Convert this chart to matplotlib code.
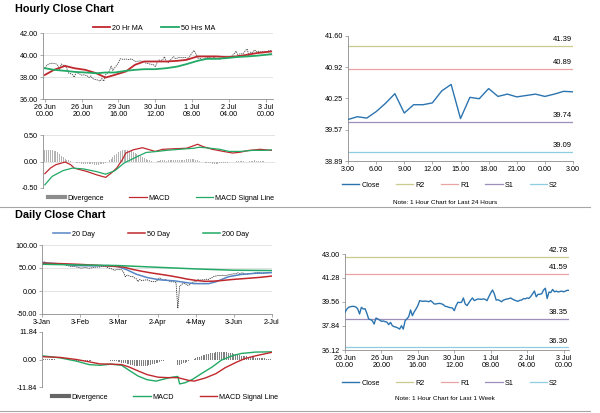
import numpy as np
import matplotlib
matplotlib.use('Agg')
import matplotlib.pyplot as plt
from matplotlib.lines import Line2D

plt.rcParams['font.family'] = ['Liberation Sans Narrow', 'Liberation Sans', 'DejaVu Sans']

# ---- hourly data, 26 Jun 00.00 .. 3 Jul 03.00 ----
week_close = [
    38.82, 39.05, 39.18, 39.22, 39.25, 39.24, 39.20, 39.06, 38.70, 39.18,
    39.06, 39.08, 38.75, 38.34, 38.30, 38.22, 37.98, 38.41, 38.35, 38.27,
    38.17, 38.20, 38.15, 38.12, 37.94, 38.10, 37.86, 37.79, 37.76, 37.70,
    37.62, 37.86, 37.62, 38.22, 38.35, 38.51, 38.99, 38.58, 38.85, 39.06,
    39.30, 39.66, 39.62, 39.61, 39.63, 39.61, 39.58, 39.66, 39.55, 39.42,
    39.42, 39.45, 39.46, 39.43, 39.37, 39.25, 39.23, 39.18, 39.15, 39.13,
    38.94, 39.30, 39.54, 39.52, 39.54, 39.85, 39.42, 39.30, 39.50, 39.70,
    39.85, 39.66, 39.72, 39.78, 39.76, 39.75, 39.78, 39.75, 39.66, 39.95,
    40.20, 40.42, 40.14, 39.70, 39.72, 39.66, 39.58, 39.70, 39.74, 39.78,
    39.80, 39.85, 39.76, 39.70, 39.65, 39.61, 39.68, 39.70, 39.80,
    39.79, 39.85, 39.82, 39.96, 40.14, 40.35, 39.93, 40.11, 40.11, 40.15,
    40.41, 40.55, 39.81, 40.27, 40.24, 40.46, 40.29, 40.34, 40.28, 40.31,
    40.34, 40.29, 40.34, 40.40, 40.39]
day_close = week_close[-25:]

week_ticks = [0, 20, 40, 60, 80, 100, 120]
week_labels = ['26 Jun\n00.00', '26 Jun\n20.00', '29 Jun\n16.00', '30 Jun\n12.00',
               '1 Jul\n08.00', '2 Jul\n04.00', '3 Jul\n00.00']
day_ticks = [0, 3, 6, 9, 12, 15, 18, 21, 24]
day_labels = ['3.00', '6.00', '9.00', '12.00', '15.00', '18.00', '21.00', '0.00', '3.00']

ma_x = [0, 5, 11, 16, 22, 28, 33, 38, 44, 49, 54, 60, 66, 72, 77, 83, 88, 93, 99, 104, 110, 115, 120, 123]
ma20 = [38.19, 38.65, 39.01, 38.80, 38.65, 38.34, 37.95, 38.19, 38.50, 39.11, 39.41, 39.41,
        39.41, 39.47, 39.56, 39.87, 39.87, 39.87, 39.81, 39.87, 40.02, 40.17, 40.26, 40.32]
ma50 = [38.80, 38.65, 38.56, 38.47, 38.41, 38.34, 38.41, 38.41, 38.56, 38.65, 38.71, 38.71,
        38.80, 38.95, 39.17, 39.47, 39.65, 39.65, 39.72, 39.81, 39.87, 39.93, 40.02, 40.08]

hmacd_x = [0, 3, 6, 11, 14, 16, 23, 28, 33, 36, 39, 42, 44, 48, 53, 56, 60, 64, 70, 77, 83, 86,
           91, 97, 102, 106, 111, 117, 120, 123]
hmacd = [-0.23, -0.125, -0.06, -0.01, -0.06, -0.125, -0.19, -0.25, -0.30, -0.22, -0.125, 0.03,
         0.16, 0.22, 0.26, 0.23, 0.19, 0.23, 0.24, 0.25, 0.325, 0.28, 0.23, 0.19, 0.16, 0.175,
         0.21, 0.23, 0.22, 0.21]
hsig_x = [0, 4, 10, 15, 21, 28, 33, 38, 43, 50, 55, 61, 66, 73, 81, 84, 90, 95, 100, 106, 113, 120, 123]
hsig = [-0.44, -0.28, -0.17, -0.125, -0.14, -0.19, -0.24, -0.175, -0.03, 0.09, 0.17, 0.19,
        0.21, 0.23, 0.25, 0.27, 0.25, 0.23, 0.19, 0.19, 0.21, 0.21, 0.22]
hdiv = [0.21, 0.22, 0.22, 0.22, 0.21, 0.20, 0.19, 0.17, 0.14,
        0.11, 0.08, 0.05, 0.03, 0.02, 0.01, 0.00, -0.01,
        -0.02, -0.03, -0.03, -0.04, -0.04, -0.05, -0.05, -0.05, -0.05, -0.05, -0.06, -0.06, -0.06, -0.05, -0.05, -0.04, -0.03,
        -0.01, 0.02, 0.05, 0.09, 0.12, 0.15, 0.18, 0.20, 0.21, 0.21, 0.21, 0.21,
        0.20, 0.19, 0.18, 0.16, 0.14, 0.12, 0.10, 0.08, 0.06, 0.04, 0.03, 0.02, 0.01, 0.00, 0.00,
        0.01, 0.01, 0.02, 0.02, 0.02, 0.01, 0.02, 0.02, 0.03, 0.02, 0.02, 0.02, 0.02, 0.03, 0.03,
        0.03, 0.04, 0.05, 0.05, 0.05, 0.04, 0.03, 0.02, 0.01, 0.00,
        -0.01, -0.02, -0.02, -0.03, -0.03, -0.04, -0.04, -0.04, -0.04, -0.03, -0.03, -0.03, -0.02,
        -0.02, -0.01, -0.01, 0.00, 0.00, 0.01, 0.01, 0.01, 0.01, 0.01, 0.00, 0.00,
        0.01, 0.01, 0.01, 0.02, 0.01, 0.01, 0.01, 0.01, 0.01, 0.00, 0.00, 0.00, 0.00]

level_names = ['R2', 'R1', 'S1', 'S2']
level_colors = ['#c9cc8e', '#e9a3a3', '#9d8fb9', '#8fcde0']
day_levels = [41.39, 40.89, 39.74, 39.09]
week_levels = [42.78, 41.59, 38.35, 36.30]

# ---- daily data, 3 Jan .. 2 Jul ----
daily_close = [
    63.05, 63.27, 62.70, 59.61, 59.56, 59.04, 58.08, 58.23, 57.81, 58.52, 58.54, 58.54, 58.34,
    56.74, 55.59, 54.19, 53.14, 53.48, 53.33, 52.14, 51.56,
    50.11, 49.61, 50.75, 50.95, 50.32, 49.57, 49.94, 51.17, 51.42, 52.05, 52.05, 52.05, 53.29,
    53.78, 53.38, 51.43, 49.90, 48.73, 47.09, 44.76,
    46.75, 47.18, 46.78, 45.90, 41.28, 31.13, 34.36, 32.98, 31.50, 31.73, 28.70, 26.95, 20.37,
    25.22, 22.43, 23.36, 24.01, 24.49, 22.60, 21.51, 20.09, 20.48,
    20.31, 25.32, 28.34, 26.08, 23.63, 25.09, 22.76, 22.41, 20.11, 19.87, 19.87, 18.27, -37.63,
    10.01, 13.78, 16.50, 16.94, 12.78, 12.34, 15.06, 18.84,
    19.78, 20.39, 24.56, 23.99, 23.55, 24.74, 24.14, 25.78, 25.29, 27.56, 29.43, 31.82, 32.50,
    33.49, 33.92, 33.25, 34.35, 32.81, 33.71, 35.49,
    35.44, 36.81, 37.29, 37.41, 39.55, 38.19, 38.94, 39.60, 36.34, 36.26, 37.12, 38.38, 37.96,
    38.84, 39.75, 40.46, 40.37, 38.01, 38.72, 38.49, 39.70, 39.27,
    39.82, 40.65]
daily_ticks = [0, 21, 42, 64, 85, 106, 127]
daily_labels = ['3-Jan', '3-Feb', '3-Mar', '2-Apr', '4-May', '3-Jun', '2-Jul']

d20_x = [0, 10, 19, 28, 37, 42, 47, 52, 58, 65, 73, 78, 84, 92, 96, 103, 110, 118, 127]
d20 = [61.8, 58.9, 55.3, 54.6, 55.3, 53.1, 45.9, 36.6, 29.3, 24.3, 22.1, 19.2, 16.0, 16.0,
       20.0, 31.0, 36.0, 38.5, 40.0]
d50_x = [0, 10, 20, 30, 40, 45, 50, 55, 60, 65, 70, 75, 80, 85, 90, 95, 100, 105, 110, 115, 120, 127]
d50 = [60.5, 59.5, 58.0, 56.0, 53.5, 52.0, 47.0, 43.0, 39.5, 36.5, 33.5, 30.0, 26.0, 23.0,
       21.0, 21.5, 23.0, 25.0, 26.5, 28.0, 29.5, 32.5]
d200_x = [0, 21, 42, 64, 85, 106, 127]
d200 = [58.2, 56.5, 55.3, 51.5, 48.0, 45.2, 44.5]

dmacd_x = [0, 10, 19, 26, 32, 38, 44, 48, 53, 58, 63, 68, 72, 75, 76, 79, 83, 88, 94, 99, 105, 110, 118, 127]
dmacd = [1.6, 0.7, -0.7, -2.2, -2.5, -2.0, -2.5, -4.6, -7.1, -8.7, -9.3, -8.3, -7.6, -7.3,
         -10.5, -10.0, -8.6, -6.1, -3.2, -0.3, 1.6, 2.6, 3.2, 3.3]
dsig_x = [0, 10, 19, 26, 32, 38, 44, 48, 53, 58, 64, 69, 75, 81, 84, 90, 96, 101, 107, 112, 118, 124, 127]
dsig = [1.2, 0.9, 0.0, -1.0, -1.9, -2.0, -2.2, -3.2, -4.9, -6.5, -7.6, -7.8, -7.8, -9.0,
        -9.3, -8.0, -6.1, -3.6, -1.3, 0.4, 1.6, 2.6, 3.1]
ddiv = [0.3, 0.3, 0.2, 0.2, 0.2, 0.1, 0.1, 0.1, 0.0, 0.0, -0.1, -0.1, -0.2, -0.2, -0.3, -0.3,
        -0.4, -0.4, -0.5, -0.5, -0.6, -0.6, -0.6, -0.6, -0.6, -0.5, -0.5, -0.5, -0.4, -0.4,
        -0.3, -0.3, -0.2, -0.2, -0.2, -0.2,
        -0.3, -0.4, -0.5, -0.6, -0.7, -0.8, -0.9, -1.1, -1.3, -1.5,
        -1.7, -1.9, -2.1, -2.3, -2.5, -2.6, -2.7, -2.8, -2.8, -2.8, -2.8, -2.7, -2.6, -2.5,
        -2.3, -2.1, -1.9,
        -1.6, -1.3, -1.0, -0.8, -0.6, -0.4, -0.3, -0.2, -0.2, -0.1, -0.1, -0.1,
        -2.4, -2.2, -1.9, -1.6, -1.3, -1.0, -0.6, -0.3, 0.0, 0.3,
        0.6, 0.9, 1.2, 1.5, 1.8, 2.1, 2.3, 2.5, 2.7, 2.9, 3.0, 3.1, 3.2, 3.3, 3.3, 3.3, 3.2,
        3.1, 3.0, 2.9, 2.7,
        2.5, 2.3, 2.1, 1.9, 1.7, 1.5, 1.4, 1.3, 1.2, 1.1, 1.0, 0.9, 0.8, 0.7, 0.6, 0.6, 0.5,
        0.5, 0.4, 0.4, 0.3, 0.3]

RED = '#c0282d'
GREEN = '#22a965'
BLUE = '#2c74b0'
FS = 5.2

W, H = 600, 413
fig = plt.figure(figsize=(6, 4.13), dpi=100)


def box(l, t, r, b):
    return [l / W, 1 - b / H, (r - l) / W, (b - t) / H]


def style(ax, grid=True):
    ax.spines['top'].set_visible(False)
    ax.spines['right'].set_visible(False)
    for s in ['left', 'bottom']:
        ax.spines[s].set_color('#8c8c8c')
        ax.spines[s].set_linewidth(0.6)
    ax.tick_params(labelsize=FS, length=2, width=0.5, color='#8c8c8c', pad=1.5)
    if grid:
        ax.yaxis.grid(True, color='#d9d9d9', lw=0.5)
    ax.set_axisbelow(True)


def legend(handles, labels, cx, cy, gap=2.5):
    fig.legend(handles, labels, loc='center', bbox_to_anchor=(cx / W, 1 - cy / H), ncol=len(handles),
               frameon=False, fontsize=FS, handlelength=2.4, handletextpad=0.3, columnspacing=gap)


# titles and separators
fig.text(15 / W, 1 - 9 / H, 'Hourly Close Chart', fontsize=7.8, fontweight='bold',
         family=['Liberation Sans', 'DejaVu Sans'], va='center')
fig.text(15 / W, 1 - 215 / H, 'Daily Close Chart', fontsize=7.8, fontweight='bold',
         family=['Liberation Sans', 'DejaVu Sans'], va='center')
fig.add_artist(Line2D([0, 590 / W], [1 - 207 / H] * 2, color='#a6a6a6', lw=0.8))
fig.add_artist(Line2D([0, 590 / W], [1 - 411 / H] * 2, color='#a6a6a6', lw=0.8))

# ---- hourly close with MAs ----
ax = fig.add_axes(box(43, 33, 273, 99))
style(ax)
x = np.arange(len(week_close))
ax.plot(x, week_close, color='#444444', lw=0.6, ls=(0, (1.5, 1)))
l20, = ax.plot(ma_x, ma20, color=RED, lw=1.3)
l50, = ax.plot(ma_x, ma50, color=GREEN, lw=1.3)
ax.set_ylim(36, 42)
ax.set_yticks([36, 38, 40, 42])
ax.set_yticklabels(['%.2f' % v for v in [36, 38, 40, 42]])
ax.set_xlim(-1, 124)
ax.set_xticks(week_ticks)
ax.set_xticklabels(week_labels, linespacing=1.1)
legend([l20, l50], ['20 Hr MA', '50 Hrs MA'], 154, 28)

# ---- hourly MACD ----
ax = fig.add_axes(box(43, 135, 275, 188))
style(ax)
x = np.arange(len(hdiv))
ax.bar(x, hdiv, width=0.55, color='#b3b3b3')
lm, = ax.plot(hmacd_x, hmacd, color=RED, lw=0.9)
ls_, = ax.plot(hsig_x, hsig, color=GREEN, lw=0.9)
ax.set_ylim(-0.5, 0.5)
ax.set_yticks([-0.5, 0, 0.5])
ax.set_yticklabels(['-0.50', '0.00', '0.50'])
ax.set_xlim(-1, 125)
ax.set_xticks([])
ax.spines['bottom'].set_visible(False)
dv = Line2D([], [], color='#8c8c8c', lw=3)
legend([dv, lm, ls_], ['Divergence', 'MACD', 'MACD Signal Line'], 161, 198, gap=3.5)


def level_chart(rect, series, levels, ticks, labels, yt, xmax, leg_y, note, note_y, xrot_labels):
    ax = fig.add_axes(box(*rect))
    style(ax, grid=False)
    handles = []
    x = np.arange(len(series))
    lc, = ax.plot(x, series, color=BLUE, lw=1.0, zorder=3)
    handles.append(lc)
    for v, c in zip(levels, level_colors):
        h = ax.axhline(v, color=c, lw=0.9)
        handles.append(h)
        ax.annotate('%.2f' % v, xy=(1, v), xycoords=('axes fraction', 'data'), xytext=(-1, 2),
                    textcoords='offset points', ha='right', va='bottom', fontsize=FS + 0.3)
    ax.set_ylim(yt[0], yt[-1])
    ax.set_yticks(yt)
    ax.set_yticklabels(['%.2f' % v for v in yt])
    ax.set_xlim(0, xmax)
    ax.set_xticks(ticks)
    ax.set_xticklabels(labels, linespacing=1.1)
    legend(handles, ['Close'] + level_names, 450, leg_y, gap=2.2)
    fig.text(445 / W, 1 - note_y / H, note, fontsize=4.6, ha='center', va='center')
    return ax


level_chart((348, 36, 573, 161), day_close, day_levels, day_ticks, day_labels,
            [38.89, 39.57, 40.25, 40.92, 41.60], 24, 185,
            'Note: 1 Hour Chart for Last 24 Hours', 202, False)
level_chart((345, 254, 569, 350), week_close, week_levels, week_ticks, week_labels,
            [36.12, 37.84, 39.56, 41.28, 43.00], 123, 383,
            'Note: 1 Hour Chart for Last 1 Week', 398, False)

# ---- daily close with MAs ----
ax = fig.add_axes(box(42, 245, 272, 314))
style(ax)
x = np.arange(len(daily_close))
ax.plot(x, daily_close, color='#333333', lw=0.6, ls=(0, (1.5, 1)))
a, = ax.plot(d20_x, d20, color='#5585c5', lw=1.1)
b, = ax.plot(d50_x, d50, color=RED, lw=1.1)
c, = ax.plot(d200_x, d200, color=GREEN, lw=1.1)
ax.set_ylim(-50, 100)
ax.set_yticks([-50, 0, 50, 100])
ax.set_yticklabels(['-50.00', '0.00', '50.00', '100.00'])
ax.set_xlim(0, 127)
ax.set_xticks(daily_ticks)
ax.set_xticklabels(daily_labels)
legend([a, b, c], ['20 Day', '50 Day', '200 Day'], 151, 234, gap=4.5)

# ---- daily MACD ----
ax = fig.add_axes(box(42, 332, 272, 387))
style(ax, grid=False)
x = np.arange(len(ddiv))
ax.bar(x, ddiv, width=0.55, color='#7f7f7f')
m1, = ax.plot(dmacd_x, dmacd, color=GREEN, lw=1.0)
m2, = ax.plot(dsig_x, dsig, color=RED, lw=1.0)
ax.set_ylim(-11.84, 11.84)
ax.set_yticks([-11.84, 0, 11.84])
ax.set_yticklabels(['-11.84', '0.00', '11.84'])
ax.set_xlim(0, 127)
ax.set_xticks([])
ax.spines['bottom'].set_visible(False)
dv2 = Line2D([], [], color='#666666', lw=3)
legend([dv2, m1, m2], ['Divergence', 'MACD', 'MACD Signal Line'], 165, 397, gap=3.5)

fig.savefig('out.png', dpi=100, facecolor='white')
